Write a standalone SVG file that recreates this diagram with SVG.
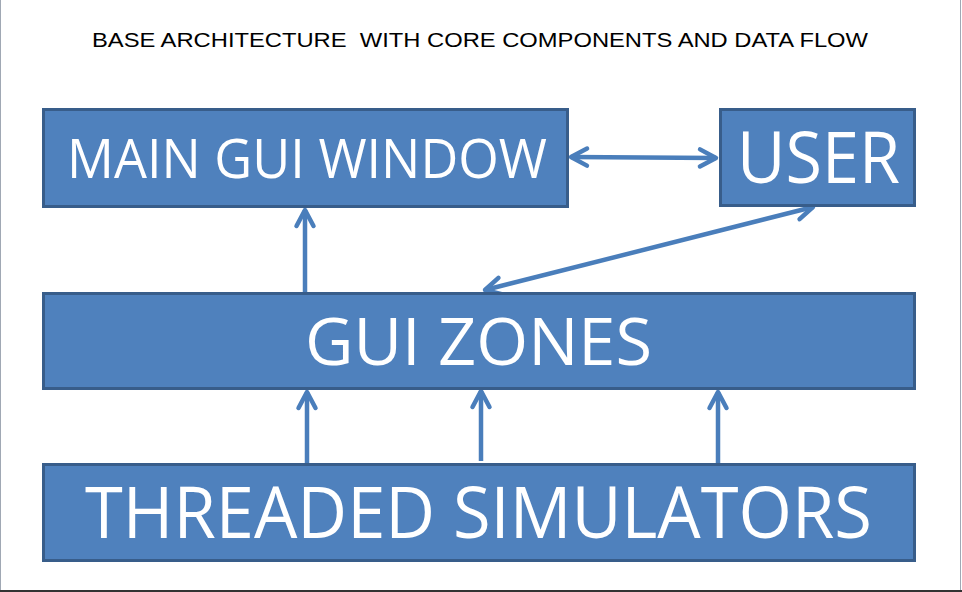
<svg xmlns="http://www.w3.org/2000/svg" width="962" height="592" viewBox="0 0 962 592">
  <style>
    .box { fill: #4F81BD; stroke: #385D8A; stroke-width: 3; }
    .lbl { fill: #FFFFFF; font-family: "Open Sans", "Noto Sans", sans-serif; }
    .title { fill: #000000; font-family: "Liberation Sans", Arial, sans-serif; font-size: 21px; }
    .conn { fill: none; stroke: #4A7EBB; stroke-width: 4.5; }
  </style>
  <defs>
    <marker id="ah" markerUnits="userSpaceOnUse" viewBox="-22 -14 28 28" markerWidth="28" markerHeight="28" refX="0" refY="0" orient="auto-start-reverse" overflow="visible">
      <path d="M-16,-8.5 L0,0 L-16,8.5" fill="none" stroke="#4A7EBB" stroke-width="4.5" stroke-linecap="round" stroke-linejoin="round"/>
    </marker>
  </defs>
  <rect x="0" y="0" width="962" height="592" fill="#FFFFFF"/>
  <line x1="0.5" y1="0" x2="0.5" y2="590" stroke="#A0A8B4" stroke-width="1"/>
  <line x1="960.5" y1="0" x2="960.5" y2="590" stroke="#A0A8B4" stroke-width="1"/>
  <line x1="0" y1="591" x2="962" y2="591" stroke="#333333" stroke-width="2"/>

  <text class="title" x="92" y="47" textLength="776" lengthAdjust="spacingAndGlyphs" xml:space="preserve">BASE ARCHITECTURE  WITH CORE COMPONENTS AND DATA FLOW</text>

  <g id="connectors">
    <line class="conn" x1="305" y1="293" x2="305" y2="210" marker-end="url(#ah)"/>
    <line class="conn" x1="485" y1="290" x2="813" y2="207" marker-start="url(#ah)" marker-end="url(#ah)"/>
    <line class="conn" x1="571" y1="157" x2="716" y2="158" marker-start="url(#ah)" marker-end="url(#ah)"/>
    <line class="conn" x1="307" y1="463" x2="307" y2="392" marker-end="url(#ah)"/>
    <line class="conn" x1="481" y1="461" x2="481" y2="391" marker-end="url(#ah)"/>
    <line class="conn" x1="718" y1="463" x2="718" y2="392" marker-end="url(#ah)"/>
  </g>

  <g id="main-gui-window">
    <rect class="box" x="43.5" y="109.5" width="524" height="97"/>
    <text class="lbl" x="67" y="178" font-size="55" textLength="480" lengthAdjust="spacingAndGlyphs">MAIN GUI WINDOW</text>
  </g>
  <g id="user">
    <rect class="box" x="720.5" y="109.5" width="194" height="96"/>
    <text class="lbl" x="737" y="183" font-size="71" textLength="163" lengthAdjust="spacingAndGlyphs">USER</text>
  </g>
  <g id="gui-zones">
    <rect class="box" x="43.5" y="293.5" width="871" height="95"/>
    <text class="lbl" x="305" y="365" font-size="66" textLength="347" lengthAdjust="spacingAndGlyphs">GUI ZONES</text>
  </g>
  <g id="threaded-simulators">
    <rect class="box" x="43.5" y="464.5" width="871" height="96"/>
    <text class="lbl" x="85" y="538" font-size="71" textLength="787" lengthAdjust="spacingAndGlyphs">THREADED SIMULATORS</text>
  </g>
</svg>
